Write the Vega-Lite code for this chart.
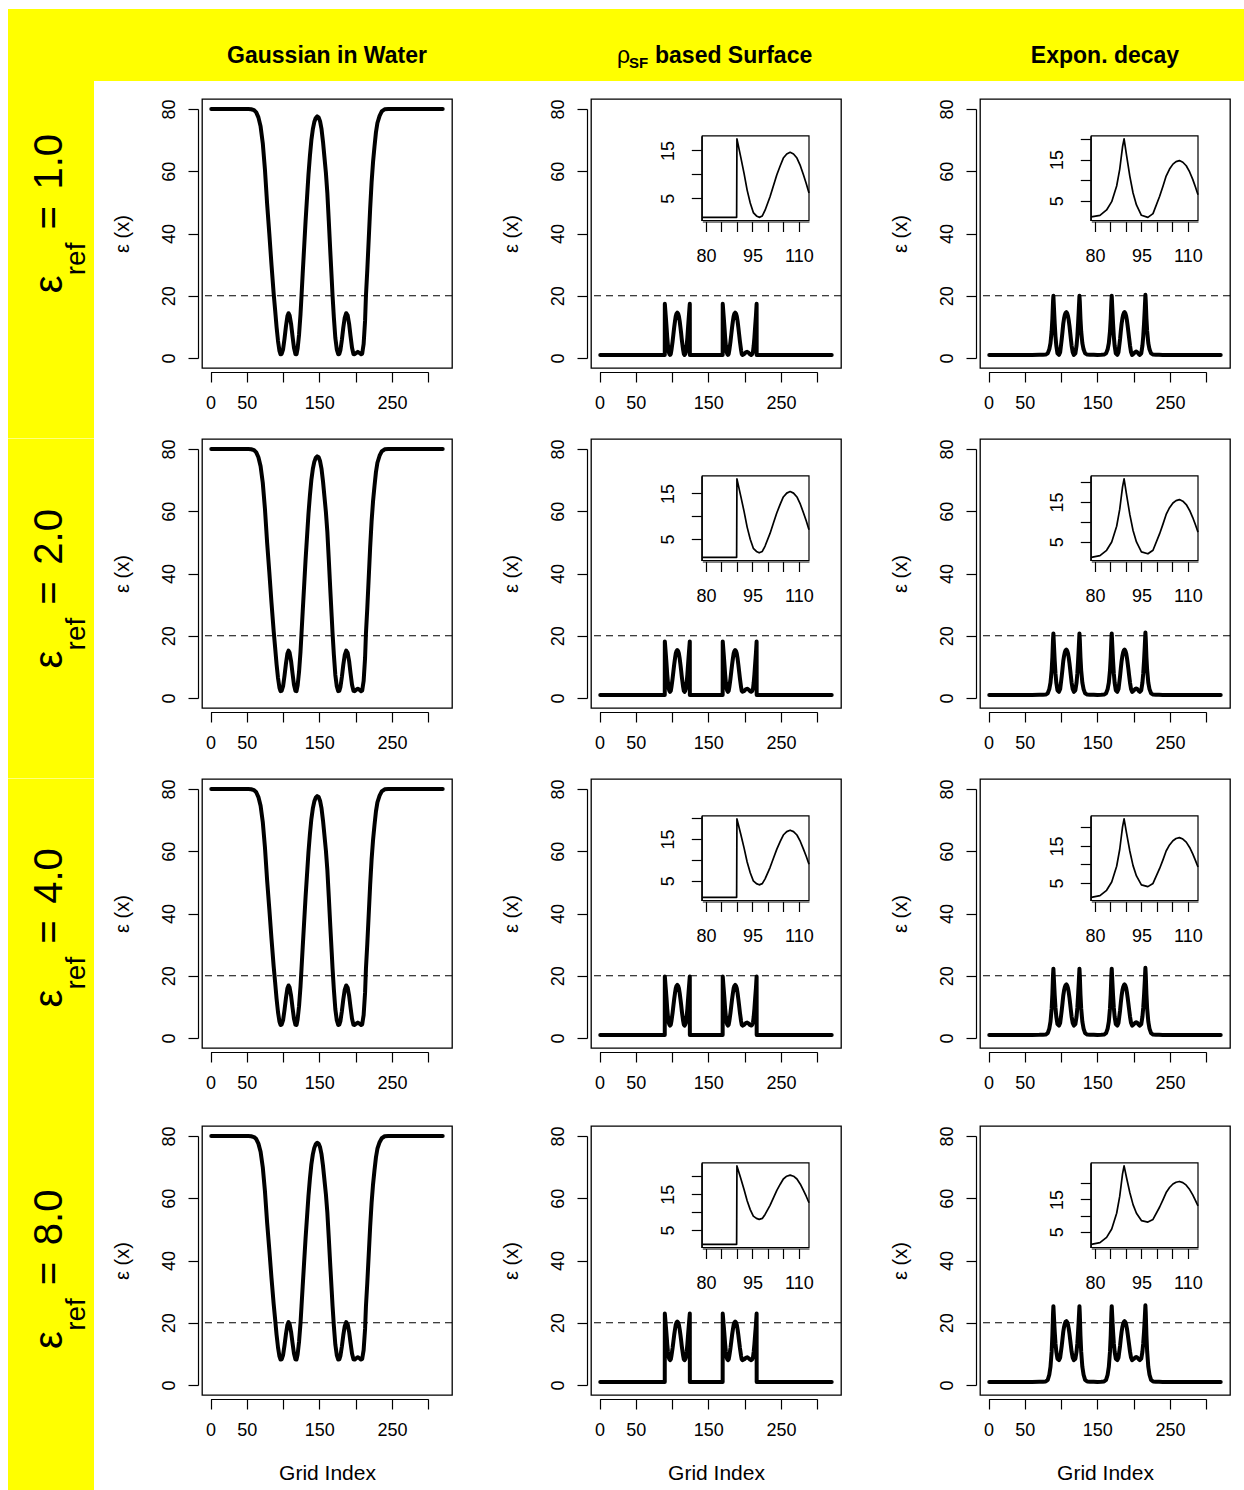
{
"$schema":"https://vega.github.io/schema/vega-lite/v6.json",
"background":"white",
"padding":{"left":8,"top":9,"right":0,"bottom":0},
"config":{"font":"Liberation Sans","view":{"stroke":"black","strokeWidth":1.3},
"axis":{"grid":false,"domainColor":"black","tickColor":"black","labelColor":"black","titleColor":"black","domainWidth":1.2,"tickWidth":1.2,"labelFontSize":18,"titleFontSize":20,"titleFontWeight":"normal","labelFont":"Liberation Sans","titleFont":"Liberation Sans","labelFlush":false,"labelOverlap":false,"tickSize":10},
"text":{"color":"black","font":"Liberation Sans"}},
"datasets":{
"gw":[
{"x":1,"r1":80,"r2":80,"r3":80,"r4":80},{"x":20,"r1":80,"r2":80,"r3":80,"r4":80},{"x":40,"r1":80,"r2":80,"r3":80,"r4":80},{"x":52,"r1":80,"r2":80,"r3":80,"r4":80},
{"x":56,"r1":79.9,"r2":79.9,"r3":79.9,"r4":79.9},{"x":60,"r1":79.6,"r2":79.61,"r3":79.62,"r4":79.64},{"x":63,"r1":78.9,"r2":78.91,"r3":78.94,"r4":79},
{"x":66,"r1":77.3,"r2":77.33,"r3":77.4,"r4":77.54},{"x":69,"r1":74.4,"r2":74.47,"r3":74.61,"r4":74.9},{"x":72,"r1":69,"r2":69.14,"r3":69.42,"r4":69.97},
{"x":75,"r1":60.5,"r2":60.75,"r3":61.24,"r4":62.23},{"x":78,"r1":49.5,"r2":49.89,"r3":50.66,"r4":52.2},{"x":81,"r1":40,"r2":40.51,"r3":41.52,"r4":43.54},
{"x":84,"r1":30,"r2":30.63,"r3":31.9,"r4":34.43},{"x":87,"r1":20.8,"r2":21.55,"r3":23.05,"r4":26.05},{"x":89,"r1":15.5,"r2":16.32,"r3":17.95,"r4":21.22},
{"x":91,"r1":10,"r2":10.89,"r3":12.66,"r4":16.2},{"x":93,"r1":5.5,"r2":6.44,"r3":8.33,"r4":12.1},{"x":95,"r1":2.3,"r2":3.28,"r3":5.25,"r4":9.18},
{"x":96.5,"r1":1.2,"r2":2.2,"r3":4.19,"r4":8.18},{"x":98,"r1":1.3,"r2":2.3,"r3":4.29,"r4":8.27},{"x":100,"r1":2.8,"r2":3.78,"r3":5.73,"r4":9.64},
{"x":102,"r1":6.3,"r2":7.23,"r3":9.1,"r4":12.83},{"x":104,"r1":10.3,"r2":11.18,"r3":12.95,"r4":16.48},{"x":106,"r1":13.5,"r2":14.34,"r3":16.03,"r4":19.39},
{"x":107.5,"r1":14.4,"r2":15.23,"r3":16.89,"r4":20.21},{"x":109,"r1":13.7,"r2":14.54,"r3":16.22,"r4":19.57},{"x":111,"r1":11,"r2":11.87,"r3":13.62,"r4":17.11},
{"x":113,"r1":7,"r2":7.92,"r3":9.77,"r4":13.47},{"x":115,"r1":3.3,"r2":4.27,"r3":6.21,"r4":10.1},{"x":117,"r1":1.3,"r2":2.3,"r3":4.29,"r4":8.27},
{"x":118.5,"r1":1.2,"r2":2.2,"r3":4.19,"r4":8.18},{"x":120,"r1":3,"r2":3.97,"r3":5.92,"r4":9.82},{"x":122,"r1":7.5,"r2":8.42,"r3":10.25,"r4":13.92},
{"x":124,"r1":14,"r2":14.84,"r3":16.51,"r4":19.85},{"x":125.4,"r1":20,"r2":20.76,"r3":22.28,"r4":25.32},{"x":127,"r1":27,"r2":27.67,"r3":29.01,"r4":31.7},
{"x":129,"r1":35.5,"r2":36.06,"r3":37.19,"r4":39.44},{"x":131,"r1":44,"r2":44.46,"r3":45.37,"r4":47.19},{"x":133,"r1":51.5,"r2":51.86,"r3":52.58,"r4":54.03},
{"x":135,"r1":59,"r2":59.27,"r3":59.8,"r4":60.86},{"x":137,"r1":65,"r2":65.19,"r3":65.57,"r4":66.33},{"x":139,"r1":70,"r2":70.13,"r3":70.38,"r4":70.89},
{"x":141,"r1":73.5,"r2":73.58,"r3":73.75,"r4":74.08},{"x":143,"r1":75.8,"r2":75.85,"r3":75.96,"r4":76.17},{"x":145,"r1":77.1,"r2":77.14,"r3":77.21,"r4":77.36},
{"x":147,"r1":77.6,"r2":77.63,"r3":77.69,"r4":77.81},{"x":149,"r1":77.3,"r2":77.33,"r3":77.4,"r4":77.54},{"x":151,"r1":76,"r2":76.05,"r3":76.15,"r4":76.35},
{"x":153,"r1":73.5,"r2":73.58,"r3":73.75,"r4":74.08},{"x":155,"r1":69.5,"r2":69.63,"r3":69.9,"r4":70.43},{"x":157,"r1":64.5,"r2":64.7,"r3":65.09,"r4":65.87},
{"x":159,"r1":59.5,"r2":59.76,"r3":60.28,"r4":61.32},{"x":161,"r1":53,"r2":53.34,"r3":54.03,"r4":55.39},{"x":163,"r1":44,"r2":44.46,"r3":45.37,"r4":47.19},
{"x":165,"r1":34.5,"r2":35.08,"r3":36.23,"r4":38.53},{"x":167,"r1":25.5,"r2":26.19,"r3":27.57,"r4":30.33},{"x":168.2,"r1":20,"r2":20.76,"r3":22.28,"r4":25.32},
{"x":170,"r1":13,"r2":13.85,"r3":15.54,"r4":18.94},{"x":172,"r1":6.5,"r2":7.43,"r3":9.29,"r4":13.01},{"x":174,"r1":2.8,"r2":3.78,"r3":5.73,"r4":9.64},
{"x":176,"r1":1.2,"r2":2.2,"r3":4.19,"r4":8.18},{"x":177.5,"r1":1.3,"r2":2.3,"r3":4.29,"r4":8.27},{"x":179,"r1":2.5,"r2":3.48,"r3":5.44,"r4":9.37},
{"x":181,"r1":5.8,"r2":6.74,"r3":8.62,"r4":12.37},{"x":183,"r1":9.8,"r2":10.69,"r3":12.47,"r4":16.02},{"x":185,"r1":13,"r2":13.85,"r3":15.54,"r4":18.94},
{"x":187,"r1":14.4,"r2":15.23,"r3":16.89,"r4":20.21},{"x":189,"r1":13.7,"r2":14.54,"r3":16.22,"r4":19.57},{"x":191,"r1":11,"r2":11.87,"r3":13.62,"r4":17.11},
{"x":193,"r1":7,"r2":7.92,"r3":9.77,"r4":13.47},{"x":195,"r1":3.3,"r2":4.27,"r3":6.21,"r4":10.1},{"x":197,"r1":1.3,"r2":2.3,"r3":4.29,"r4":8.27},
{"x":198.5,"r1":1.2,"r2":2.2,"r3":4.19,"r4":8.18},{"x":200.5,"r1":1.6,"r2":2.59,"r3":4.58,"r4":8.55},{"x":203,"r1":2,"r2":2.99,"r3":4.96,"r4":8.91},
{"x":205.5,"r1":1.6,"r2":2.59,"r3":4.58,"r4":8.55},{"x":207.5,"r1":1.2,"r2":2.2,"r3":4.19,"r4":8.18},{"x":209,"r1":1.4,"r2":2.39,"r3":4.38,"r4":8.36},
{"x":211,"r1":4.5,"r2":5.46,"r3":7.37,"r4":11.19},{"x":213,"r1":12,"r2":12.86,"r3":14.58,"r4":18.03},{"x":214.2,"r1":20,"r2":20.76,"r3":22.28,"r4":25.32},
{"x":216,"r1":28,"r2":28.66,"r3":29.97,"r4":32.61},{"x":218,"r1":38,"r2":38.53,"r3":39.6,"r4":41.72},{"x":220,"r1":48,"r2":48.41,"r3":49.22,"r4":50.84},
{"x":222,"r1":56.5,"r2":56.8,"r3":57.39,"r4":58.58},{"x":224,"r1":63,"r2":63.22,"r3":63.65,"r4":64.51},{"x":226,"r1":68,"r2":68.15,"r3":68.46,"r4":69.06},
{"x":228,"r1":72.5,"r2":72.6,"r3":72.79,"r4":73.16},{"x":230,"r1":75.5,"r2":75.56,"r3":75.67,"r4":75.9},{"x":233,"r1":77.8,"r2":77.83,"r3":77.88,"r4":78},
{"x":236,"r1":79.2,"r2":79.21,"r3":79.23,"r4":79.27},{"x":240,"r1":79.9,"r2":79.9,"r3":79.9,"r4":79.9},{"x":245,"r1":80,"r2":80,"r3":80,"r4":80},
{"x":270,"r1":80,"r2":80,"r3":80,"r4":80},{"x":300,"r1":80,"r2":80,"r3":80,"r4":80},{"x":320,"r1":80,"r2":80,"r3":80,"r4":80}
],
"sf":[
{"x":1,"r1":1,"r2":1,"r3":1,"r4":1},{"x":40,"r1":1,"r2":1,"r3":1,"r4":1},{"x":78.8,"r1":1,"r2":1,"r3":1,"r4":1},{"x":89.9,"r1":1,"r2":1,"r3":1,"r4":1},
{"x":90,"r1":17.4,"r2":18.19,"r3":19.78,"r4":22.95},{"x":91.2,"r1":13.7,"r2":14.54,"r3":16.22,"r4":19.57},{"x":92.3,"r1":10.2,"r2":11.08,"r3":12.85,"r4":16.38},
{"x":93.3,"r1":6.7,"r2":7.63,"r3":9.48,"r4":13.19},{"x":94.3,"r1":4,"r2":4.96,"r3":6.89,"r4":10.73},{"x":95.3,"r1":2,"r2":2.99,"r3":4.96,"r4":8.91},
{"x":96.3,"r1":1.3,"r2":2.3,"r3":4.29,"r4":8.27},{"x":97.2,"r1":1,"r2":2,"r3":4,"r4":8},{"x":98.2,"r1":1.3,"r2":2.3,"r3":4.29,"r4":8.27},
{"x":99.1,"r1":2.5,"r2":3.48,"r3":5.44,"r4":9.37},{"x":100.7,"r1":5.3,"r2":6.25,"r3":8.14,"r4":11.92},{"x":101.8,"r1":7.6,"r2":8.52,"r3":10.35,"r4":14.02},
{"x":102.9,"r1":9.9,"r2":10.79,"r3":12.56,"r4":16.11},{"x":104,"r1":11.8,"r2":12.66,"r3":14.39,"r4":17.84},
{"x":105,"r1":13.4,"r2":14.24,"r3":15.93,"r4":19.3},{"x":106.1,"r1":14.25,"r2":15.08,"r3":16.75,"r4":20.08},{"x":107.2,"r1":14.6,"r2":15.43,"r3":17.08,"r4":20.39},
{"x":108.3,"r1":14.25,"r2":15.08,"r3":16.75,"r4":20.08},{"x":109.4,"r1":13.4,"r2":14.24,"r3":15.93,"r4":19.3},{"x":110.5,"r1":11.8,"r2":12.66,"r3":14.39,"r4":17.84},
{"x":111.5,"r1":9.9,"r2":10.79,"r3":12.56,"r4":16.11},{"x":112.4,"r1":8.1,"r2":9.01,"r3":10.83,"r4":14.47},{"x":113.3,"r1":6.1,"r2":7.04,"r3":8.91,"r4":12.65},{"x":113.7,"r1":5.3,"r2":6.25,"r3":8.14,"r4":11.92},
{"x":115.3,"r1":2.5,"r2":3.48,"r3":5.44,"r4":9.37},{"x":116.2,"r1":1.3,"r2":2.3,"r3":4.29,"r4":8.27},{"x":117.2,"r1":1,"r2":2,"r3":4,"r4":8},
{"x":118.1,"r1":1.3,"r2":2.3,"r3":4.29,"r4":8.27},{"x":119.1,"r1":2,"r2":2.99,"r3":4.96,"r4":8.91},{"x":120.1,"r1":4,"r2":4.96,"r3":6.89,"r4":10.73},
{"x":121.1,"r1":6.7,"r2":7.63,"r3":9.48,"r4":13.19},{"x":122.1,"r1":10.2,"r2":11.08,"r3":12.85,"r4":16.38},{"x":123.2,"r1":13.7,"r2":14.54,"r3":16.22,"r4":19.57},
{"x":124.4,"r1":17.4,"r2":18.19,"r3":19.78,"r4":22.95},{"x":124.5,"r1":1,"r2":1,"r3":1,"r4":1},{"x":169.7,"r1":1,"r2":1,"r3":1,"r4":1},
{"x":169.8,"r1":17.4,"r2":18.19,"r3":19.78,"r4":22.95},{"x":171,"r1":13.7,"r2":14.54,"r3":16.22,"r4":19.57},{"x":172.1,"r1":10.2,"r2":11.08,"r3":12.85,"r4":16.38},
{"x":173.1,"r1":6.7,"r2":7.63,"r3":9.48,"r4":13.19},{"x":174.1,"r1":4,"r2":4.96,"r3":6.89,"r4":10.73},{"x":175.1,"r1":2,"r2":2.99,"r3":4.96,"r4":8.91},
{"x":176.1,"r1":1.3,"r2":2.3,"r3":4.29,"r4":8.27},{"x":177,"r1":1,"r2":2,"r3":4,"r4":8},{"x":178,"r1":1.3,"r2":2.3,"r3":4.29,"r4":8.27},
{"x":178.9,"r1":2.5,"r2":3.48,"r3":5.44,"r4":9.37},{"x":180.5,"r1":5.3,"r2":6.25,"r3":8.14,"r4":11.92},{"x":181.6,"r1":7.6,"r2":8.52,"r3":10.35,"r4":14.02},
{"x":182.7,"r1":9.9,"r2":10.79,"r3":12.56,"r4":16.11},{"x":183.8,"r1":11.8,"r2":12.66,"r3":14.39,"r4":17.84},
{"x":184.8,"r1":13.4,"r2":14.24,"r3":15.93,"r4":19.3},{"x":185.9,"r1":14.25,"r2":15.08,"r3":16.75,"r4":20.08},{"x":187,"r1":14.6,"r2":15.43,"r3":17.08,"r4":20.39},
{"x":188.1,"r1":14.25,"r2":15.08,"r3":16.75,"r4":20.08},{"x":189.2,"r1":13.4,"r2":14.24,"r3":15.93,"r4":19.3},{"x":190.3,"r1":11.8,"r2":12.66,"r3":14.39,"r4":17.84},
{"x":191.3,"r1":9.9,"r2":10.79,"r3":12.56,"r4":16.11},{"x":192.4,"r1":7.6,"r2":8.52,"r3":10.35,"r4":14.02},{"x":193.5,"r1":5.3,"r2":6.25,"r3":8.14,"r4":11.92},{"x":195.1,"r1":2.5,"r2":3.48,"r3":5.44,"r4":9.37},
{"x":196,"r1":1.3,"r2":2.3,"r3":4.29,"r4":8.27},{"x":197,"r1":1,"r2":2,"r3":4,"r4":8},{"x":199.5,"r1":1.3,"r2":2.3,"r3":4.29,"r4":8.27},
{"x":201.5,"r1":1.8,"r2":2.79,"r3":4.77,"r4":8.73},{"x":203.5,"r1":2,"r2":2.99,"r3":4.96,"r4":8.91},{"x":205.5,"r1":1.7,"r2":2.69,"r3":4.67,"r4":8.64},
{"x":207.5,"r1":1.2,"r2":2.2,"r3":4.19,"r4":8.18},{"x":209,"r1":1,"r2":2,"r3":4,"r4":8},{"x":210.5,"r1":1.3,"r2":2.3,"r3":4.29,"r4":8.27},
{"x":211.5,"r1":2,"r2":2.99,"r3":4.96,"r4":8.91},{"x":212.5,"r1":4,"r2":4.96,"r3":6.89,"r4":10.73},{"x":213.5,"r1":6.7,"r2":7.63,"r3":9.48,"r4":13.19},
{"x":214.5,"r1":10.2,"r2":11.08,"r3":12.85,"r4":16.38},{"x":215.6,"r1":13.7,"r2":14.54,"r3":16.22,"r4":19.57},{"x":216.5,"r1":17.4,"r2":18.19,"r3":19.78,"r4":22.95},
{"x":216.6,"r1":1,"r2":1,"r3":1,"r4":1},{"x":320,"r1":1,"r2":1,"r3":1,"r4":1}
],
"ex":[
{"x":1,"r1":1,"r2":1,"r3":1,"r4":1},{"x":60,"r1":1,"r2":1,"r3":1,"r4":1},{"x":70,"r1":1.02,"r2":1.02,"r3":1.02,"r4":1.03},{"x":75,"r1":1.05,"r2":1.05,"r3":1.06,"r4":1.06},
{"x":78.8,"r1":1.1,"r2":1.1,"r3":1.11,"r4":1.13},{"x":81.6,"r1":1.5,"r2":1.52,"r3":1.56,"r4":1.64},{"x":83.75,"r1":2.8,"r2":2.87,"r3":3.02,"r4":3.3},
{"x":85.4,"r1":4.8,"r2":4.95,"r3":5.26,"r4":5.86},{"x":87,"r1":8.6,"r2":8.9,"r3":9.51,"r4":10.73},{"x":88,"r1":12.7,"r2":13.17,"r3":14.1,"r4":15.98},
{"x":88.9,"r1":18.1,"r2":18.78,"r3":20.15,"r4":22.89},{"x":89.4,"r1":20,"r2":20.76,"r3":22.28,"r4":25.32},{"x":90.2,"r1":16,"r2":16.81,"r3":18.43,"r4":21.67},
{"x":91.25,"r1":11,"r2":11.87,"r3":13.62,"r4":17.11},{"x":92.3,"r1":6.9,"r2":7.83,"r3":9.68,"r4":13.38},{"x":93.4,"r1":4,"r2":4.96,"r3":6.89,"r4":10.73},
{"x":95,"r1":1.5,"r2":2.49,"r3":4.48,"r4":8.46},{"x":97.1,"r1":1,"r2":2,"r3":4,"r4":8},{"x":98.75,"r1":1.9,"r2":2.89,"r3":4.87,"r4":8.82},
{"x":100.9,"r1":6.1,"r2":7.04,"r3":8.91,"r4":12.65},{"x":102,"r1":8.6,"r2":9.5,"r3":11.31,"r4":14.93},{"x":103,"r1":11,"r2":11.87,"r3":13.62,"r4":17.11},{"x":104.1,"r1":12.7,"r2":13.55,"r3":15.26,"r4":18.66},{"x":105.2,"r1":13.9,"r2":14.74,"r3":16.41,"r4":19.76},
{"x":106.2,"r1":14.5,"r2":15.33,"r3":16.99,"r4":20.3},{"x":107.3,"r1":14.75,"r2":15.58,"r3":17.23,"r4":20.53},{"x":108.4,"r1":14.35,"r2":15.18,"r3":16.84,"r4":20.17},{"x":109.5,"r1":13.5,"r2":14.34,"r3":16.03,"r4":19.39},{"x":110.6,"r1":12,"r2":12.86,"r3":14.58,"r4":18.03},{"x":111.6,"r1":10.2,"r2":11.08,"r3":12.85,"r4":16.38},
{"x":112.5,"r1":8.3,"r2":9.21,"r3":11.02,"r4":14.65},{"x":113.3,"r1":6.5,"r2":7.43,"r3":9.29,"r4":13.01},{"x":114.5,"r1":4,"r2":4.96,"r3":6.89,"r4":10.73},{"x":116,"r1":1.9,"r2":2.89,"r3":4.87,"r4":8.82},
{"x":117.6,"r1":1,"r2":2,"r3":4,"r4":8},{"x":119.7,"r1":1.5,"r2":2.49,"r3":4.48,"r4":8.46},{"x":121.3,"r1":4,"r2":4.96,"r3":6.89,"r4":10.73},
{"x":122.4,"r1":6.9,"r2":7.83,"r3":9.68,"r4":13.38},{"x":123.4,"r1":11,"r2":11.87,"r3":13.62,"r4":17.11},{"x":124.5,"r1":16,"r2":16.81,"r3":18.43,"r4":21.67},
{"x":125.3,"r1":20,"r2":20.76,"r3":22.28,"r4":25.32},{"x":125.8,"r1":18.1,"r2":18.78,"r3":20.15,"r4":22.89},{"x":126.7,"r1":12.7,"r2":13.17,"r3":14.1,"r4":15.98},
{"x":127.7,"r1":8.6,"r2":8.9,"r3":9.51,"r4":10.73},{"x":129.3,"r1":4.8,"r2":4.95,"r3":5.26,"r4":5.86},{"x":131,"r1":2.8,"r2":2.87,"r3":3.02,"r4":3.3},
{"x":133.1,"r1":1.5,"r2":1.52,"r3":1.56,"r4":1.64},{"x":136,"r1":1.1,"r2":1.1,"r3":1.11,"r4":1.13},{"x":139.8,"r1":1.05,"r2":1.05,"r3":1.06,"r4":1.06},
{"x":145,"r1":1.02,"r2":1.02,"r3":1.02,"r4":1.03},{"x":150,"r1":1,"r2":1,"r3":1,"r4":1},{"x":155.4,"r1":1.02,"r2":1.02,"r3":1.02,"r4":1.03},
{"x":159.2,"r1":1.1,"r2":1.1,"r3":1.11,"r4":1.13},{"x":162,"r1":1.5,"r2":1.52,"r3":1.56,"r4":1.64},{"x":164.15,"r1":2.8,"r2":2.87,"r3":3.02,"r4":3.3},
{"x":165.8,"r1":4.8,"r2":4.95,"r3":5.26,"r4":5.86},{"x":167.4,"r1":8.6,"r2":8.9,"r3":9.51,"r4":10.73},{"x":168.4,"r1":12.7,"r2":13.17,"r3":14.1,"r4":15.98},
{"x":169.3,"r1":18.1,"r2":18.78,"r3":20.15,"r4":22.89},{"x":169.8,"r1":20,"r2":20.76,"r3":22.28,"r4":25.32},{"x":170.6,"r1":16,"r2":16.81,"r3":18.43,"r4":21.67},
{"x":171.65,"r1":11,"r2":11.87,"r3":13.62,"r4":17.11},{"x":172.7,"r1":6.9,"r2":7.83,"r3":9.68,"r4":13.38},{"x":173.8,"r1":4,"r2":4.96,"r3":6.89,"r4":10.73},
{"x":175.4,"r1":1.5,"r2":2.49,"r3":4.48,"r4":8.46},{"x":177.5,"r1":1,"r2":2,"r3":4,"r4":8},{"x":179.15,"r1":1.9,"r2":2.89,"r3":4.87,"r4":8.82},
{"x":181.3,"r1":6.1,"r2":7.04,"r3":8.91,"r4":12.65},{"x":182.3,"r1":8.6,"r2":9.5,"r3":11.31,"r4":14.93},{"x":183.4,"r1":11,"r2":11.87,"r3":13.62,"r4":17.11},{"x":184.5,"r1":12.7,"r2":13.55,"r3":15.26,"r4":18.66},{"x":185.6,"r1":13.9,"r2":14.74,"r3":16.41,"r4":19.76},
{"x":186.6,"r1":14.5,"r2":15.33,"r3":16.99,"r4":20.3},{"x":187.5,"r1":14.75,"r2":15.58,"r3":17.23,"r4":20.53},{"x":188.6,"r1":14.35,"r2":15.18,"r3":16.84,"r4":20.17},{"x":189.7,"r1":13.5,"r2":14.34,"r3":16.03,"r4":19.39},{"x":190.8,"r1":12,"r2":12.86,"r3":14.58,"r4":18.03},{"x":191.8,"r1":10.2,"r2":11.08,"r3":12.85,"r4":16.38},
{"x":192.8,"r1":8.3,"r2":9.21,"r3":11.02,"r4":14.65},{"x":193.7,"r1":6.5,"r2":7.43,"r3":9.29,"r4":13.01},{"x":195,"r1":4,"r2":4.96,"r3":6.89,"r4":10.73},{"x":196.4,"r1":1.9,"r2":2.89,"r3":4.87,"r4":8.82},
{"x":197.9,"r1":1,"r2":2,"r3":4,"r4":8},{"x":200,"r1":1.4,"r2":2.39,"r3":4.38,"r4":8.36},{"x":202,"r1":1.9,"r2":2.89,"r3":4.87,"r4":8.82},
{"x":203.5,"r1":2.1,"r2":3.09,"r3":5.06,"r4":9},{"x":205,"r1":1.9,"r2":2.89,"r3":4.87,"r4":8.82},{"x":207,"r1":1.3,"r2":2.3,"r3":4.29,"r4":8.27},
{"x":208.5,"r1":1,"r2":2,"r3":4,"r4":8},{"x":210.5,"r1":1.5,"r2":2.49,"r3":4.48,"r4":8.46},{"x":212.1,"r1":4,"r2":4.96,"r3":6.89,"r4":10.73},
{"x":213.2,"r1":6.9,"r2":7.83,"r3":9.68,"r4":13.38},{"x":214.3,"r1":11,"r2":11.87,"r3":13.62,"r4":17.11},{"x":215.4,"r1":16,"r2":16.81,"r3":18.43,"r4":21.67},
{"x":216.2,"r1":20.3,"r2":21.06,"r3":22.57,"r4":25.59},{"x":216.7,"r1":18.3,"r2":18.99,"r3":20.38,"r4":23.14},{"x":217.6,"r1":12.8,"r2":13.27,"r3":14.22,"r4":16.1},
{"x":218.6,"r1":8.7,"r2":9.01,"r3":9.62,"r4":10.86},{"x":220.2,"r1":4.8,"r2":4.95,"r3":5.26,"r4":5.86},{"x":221.85,"r1":2.8,"r2":2.87,"r3":3.02,"r4":3.3},
{"x":224,"r1":1.5,"r2":1.52,"r3":1.56,"r4":1.64},{"x":226.8,"r1":1.1,"r2":1.1,"r3":1.11,"r4":1.13},{"x":230.6,"r1":1.05,"r2":1.05,"r3":1.06,"r4":1.06},
{"x":235,"r1":1.02,"r2":1.02,"r3":1.02,"r4":1.03},{"x":240,"r1":1,"r2":1,"r3":1,"r4":1},{"x":320,"r1":1,"r2":1,"r3":1,"r4":1}
]
},
"columns":4,
"spacing":{"row":0,"column":0},
"bounds":"flush",
"concat":[
 {"width":194,"height":72,"view":{"fill":"#ffff00","stroke":null},"data":{"values":[{"k":1}]},"mark":{"type":"point","opacity":0}},
 {"width":389,"height":72,"view":{"fill":"#ffff00","stroke":null},"data":{"values":[{"k":1}]},"mark":{"type":"point","opacity":0}},
 {"width":389,"height":72,"view":{"fill":"#ffff00","stroke":null},"data":{"values":[{"k":1}]},"mark":{"type":"point","opacity":0}},
 {"width":264,"height":72,"view":{"fill":"#ffff00","stroke":null},"data":{"values":[{"k":1}]},"mark":{"type":"point","opacity":0}},

 {"width":86,"height":18,"view":{"fill":"#ffff00","stroke":null},"data":{"values":[{"k":1}]},"mark":{"type":"point","opacity":0}},
 {"width":1,"height":18,"view":{"stroke":null},"data":{"values":[{"k":1}]},"mark":{"type":"point","opacity":0}},
 {"width":1,"height":18,"view":{"stroke":null},"data":{"values":[{"k":1}]},"mark":{"type":"point","opacity":0}},
 {"width":1,"height":18,"view":{"stroke":null},"data":{"values":[{"k":1}]},"mark":{"type":"point","opacity":0}},

 {"width":86,"height":339.5,"view":{"fill":"#ffff00","stroke":null},"data":{"values":[{"k":1}]},"mark":{"type":"point","opacity":0}},
 {"width":250,"height":269,"layer":[
    {"data":{"name":"gw"},"mark":{"type":"line","color":"black","strokeWidth":4,"strokeJoin":"round","strokeCap":"round"},"encoding":{
     "x":{"field":"x","type":"quantitative","scale":{"domain":[0,300],"range":[8.53,226.2],"nice":false,"zero":false},"axis":{"values":[0,50,100,150,200,250,300],"labelExpr":"datum.value == 100 || datum.value == 200 || datum.value == 300 ? '' : datum.label","title":null,"offset":4,"labelPadding":12}},
     "y":{"field":"r1","type":"quantitative","scale":{"domain":[0,80],"range":[259.04,9.96],"nice":false,"zero":false},"axis":{"values":[0,20,40,60,80],"labelAngle":270,"labelAlign":"center","labelBaseline":"bottom","labelPadding":10,"offset":4,"title":"ε (x)","titlePadding":28}}}},
    {"data":{"values":[{"k":1}]},"mark":{"type":"rule","color":"black","strokeWidth":1.2,"strokeDash":[7,5]},"encoding":{"y":{"datum":20}}},
    {"data":{"values":[{"k":1}]},"mark":{"type":"text","text":"=","fontSize":40,"angle":270,"align":"left","baseline":"alphabetic","dx":13},"encoding":{"x":{"datum":-204.7},"y":{"datum":37.1}}},
    {"data":{"values":[{"k":1}]},"mark":{"type":"text","text":"1.0","fontSize":40,"angle":270,"align":"left","baseline":"alphabetic","dx":53},"encoding":{"x":{"datum":-204.7},"y":{"datum":37.1}}},
    {"data":{"values":[{"k":1}]},"mark":{"type":"text","text":"ref","fontSize":28,"angle":270,"align":"right","baseline":"alphabetic","dy":23},"encoding":{"x":{"datum":-204.7},"y":{"datum":37.1}}},
    {"data":{"values":[{"k":1}]},"mark":{"type":"text","text":"ε","fontSize":40,"angle":270,"align":"right","baseline":"alphabetic","dx":-33},"encoding":{"x":{"datum":-204.7},"y":{"datum":37.1}}},
    {"data":{"values":[{"k":1}]},"mark":{"type":"text","text":"Gaussian in Water","fontSize":23,"fontWeight":"bold","align":"center","baseline":"alphabetic"},"encoding":{"y":{"datum":94.86}}}
 ]},
 {"width":250,"height":269,"layer":[
    {"layer":[
     {"data":{"name":"sf"},"mark":{"type":"line","color":"black","strokeWidth":4,"strokeJoin":"round","strokeCap":"round"},"encoding":{
      "x":{"field":"x","type":"quantitative","scale":{"domain":[0,300],"range":[8.53,226.2],"nice":false,"zero":false},"axis":{"values":[0,50,100,150,200,250,300],"labelExpr":"datum.value == 100 || datum.value == 200 || datum.value == 300 ? '' : datum.label","title":null,"offset":4,"labelPadding":12}},
      "y":{"field":"r1","type":"quantitative","scale":{"domain":[0,80],"range":[259.04,9.96],"nice":false,"zero":false},"axis":{"values":[0,20,40,60,80],"labelAngle":270,"labelAlign":"center","labelBaseline":"bottom","labelPadding":10,"offset":4,"title":"ε (x)","titlePadding":28}}}},
     {"data":{"values":[{"k":1}]},"mark":{"type":"rule","color":"black","strokeWidth":1.2,"strokeDash":[7,5]},"encoding":{"y":{"datum":20}}},
     {"data":{"values":[{"k":1}]},"mark":{"type":"text","text":"ρ","fontSize":23,"align":"left","baseline":"alphabetic","dx":-99},"encoding":{"y":{"datum":94.86}}},
     {"data":{"values":[{"k":1}]},"mark":{"type":"text","text":"SF","fontSize":15,"fontWeight":"bold","align":"left","baseline":"alphabetic","dx":-87,"dy":5},"encoding":{"y":{"datum":94.86}}},
     {"data":{"values":[{"k":1}]},"mark":{"type":"text","text":"based Surface","fontSize":23,"fontWeight":"bold","align":"left","baseline":"alphabetic","dx":-61},"encoding":{"y":{"datum":94.86}}}
    ]},
    {"data":{"name":"sf"},"transform":[{"filter":"datum.x >= 78.8 && datum.x <= 113.3"}],"layer":[
     {"mark":{"type":"line","color":"black","strokeWidth":1.7,"strokeJoin":"round"},"encoding":{
      "x":{"field":"x","type":"quantitative","scale":{"domain":[78.8,113.3],"range":[111.3,218],"nice":false,"zero":false},"axis":{"orient":"bottom","values":[80,85,90,95,100,105,110],"labelExpr":"datum.value == 80 || datum.value == 95 || datum.value == 110 ? datum.label : ''","title":null,"offset":-146.5,"labelPadding":16}},
      "y":{"field":"r1","type":"quantitative","scale":{"domain":[0.344,18.056],"range":[121.5,36.8],"nice":false,"zero":false},"axis":{"orient":"left","values":[5,10,15],"labelExpr":"datum.value == 5 || datum.value == 15 ? datum.label : ''","title":null,"offset":-110.3,"labelAngle":270,"labelAlign":"center","labelBaseline":"bottom","labelPadding":14}}}},
     {"data":{"values":[{"k":1}]},"mark":{"type":"rect","filled":false,"color":"black","strokeWidth":1.2},"encoding":{"x":{"datum":78.8},"x2":{"datum":113.3},"y":{"datum":0.344},"y2":{"datum":18.056}}}
    ]}
 ],"resolve":{"scale":{"x":"independent","y":"independent"},"axis":{"x":"independent","y":"independent"}}},
 {"width":250,"height":269,"layer":[
    {"layer":[
     {"data":{"name":"ex"},"mark":{"type":"line","color":"black","strokeWidth":4,"strokeJoin":"round","strokeCap":"round"},"encoding":{
      "x":{"field":"x","type":"quantitative","scale":{"domain":[0,300],"range":[8.53,226.2],"nice":false,"zero":false},"axis":{"values":[0,50,100,150,200,250,300],"labelExpr":"datum.value == 100 || datum.value == 200 || datum.value == 300 ? '' : datum.label","title":null,"offset":4,"labelPadding":12}},
      "y":{"field":"r1","type":"quantitative","scale":{"domain":[0,80],"range":[259.04,9.96],"nice":false,"zero":false},"axis":{"values":[0,20,40,60,80],"labelAngle":270,"labelAlign":"center","labelBaseline":"bottom","labelPadding":10,"offset":4,"title":"ε (x)","titlePadding":28}}}},
     {"data":{"values":[{"k":1}]},"mark":{"type":"rule","color":"black","strokeWidth":1.2,"strokeDash":[7,5]},"encoding":{"y":{"datum":20}}},
     {"data":{"values":[{"k":1}]},"mark":{"type":"text","text":"Expon. decay","fontSize":23,"fontWeight":"bold","align":"center","baseline":"alphabetic"},"encoding":{"y":{"datum":94.86}}}
    ]},
    {"data":{"name":"ex"},"transform":[{"filter":"datum.x >= 78.8 && datum.x <= 113.3"}],"layer":[
     {"mark":{"type":"line","color":"black","strokeWidth":1.7,"strokeJoin":"round"},"encoding":{
      "x":{"field":"x","type":"quantitative","scale":{"domain":[78.8,113.3],"range":[111.3,218],"nice":false,"zero":false},"axis":{"orient":"bottom","values":[80,85,90,95,100,105,110],"labelExpr":"datum.value == 80 || datum.value == 95 || datum.value == 110 ? datum.label : ''","title":null,"offset":-146.5,"labelPadding":16}},
      "y":{"field":"r1","type":"quantitative","scale":{"domain":[0.24,20.76],"range":[121.5,36.8],"nice":false,"zero":false},"axis":{"orient":"left","values":[5,10,15,20],"labelExpr":"datum.value == 5 || datum.value == 15 ? datum.label : ''","title":null,"offset":-110.3,"labelAngle":270,"labelAlign":"center","labelBaseline":"bottom","labelPadding":14}}}},
     {"data":{"values":[{"k":1}]},"mark":{"type":"rect","filled":false,"color":"black","strokeWidth":1.2},"encoding":{"x":{"datum":78.8},"x2":{"datum":113.3},"y":{"datum":0.24},"y2":{"datum":20.76}}}
    ]}
 ],"resolve":{"scale":{"x":"independent","y":"independent"},"axis":{"x":"independent","y":"independent"}}},

 {"width":86,"height":339.5,"view":{"fill":"#ffff00","stroke":null},"data":{"values":[{"k":1}]},"mark":{"type":"point","opacity":0}},
 {"width":250,"height":269,"layer":[
    {"data":{"name":"gw"},"mark":{"type":"line","color":"black","strokeWidth":4,"strokeJoin":"round","strokeCap":"round"},"encoding":{
     "x":{"field":"x","type":"quantitative","scale":{"domain":[0,300],"range":[8.53,226.2],"nice":false,"zero":false},"axis":{"values":[0,50,100,150,200,250,300],"labelExpr":"datum.value == 100 || datum.value == 200 || datum.value == 300 ? '' : datum.label","title":null,"offset":4,"labelPadding":12}},
     "y":{"field":"r2","type":"quantitative","scale":{"domain":[0,80],"range":[259.04,9.96],"nice":false,"zero":false},"axis":{"values":[0,20,40,60,80],"labelAngle":270,"labelAlign":"center","labelBaseline":"bottom","labelPadding":10,"offset":4,"title":"ε (x)","titlePadding":28}}}},
    {"data":{"values":[{"k":1}]},"mark":{"type":"rule","color":"black","strokeWidth":1.2,"strokeDash":[7,5]},"encoding":{"y":{"datum":20}}},
    {"data":{"values":[{"k":1}]},"mark":{"type":"text","text":"=","fontSize":40,"angle":270,"align":"left","baseline":"alphabetic","dx":13},"encoding":{"x":{"datum":-204.7},"y":{"datum":25.8}}},
    {"data":{"values":[{"k":1}]},"mark":{"type":"text","text":"2.0","fontSize":40,"angle":270,"align":"left","baseline":"alphabetic","dx":53},"encoding":{"x":{"datum":-204.7},"y":{"datum":25.8}}},
    {"data":{"values":[{"k":1}]},"mark":{"type":"text","text":"ref","fontSize":28,"angle":270,"align":"right","baseline":"alphabetic","dy":23},"encoding":{"x":{"datum":-204.7},"y":{"datum":25.8}}},
    {"data":{"values":[{"k":1}]},"mark":{"type":"text","text":"ε","fontSize":40,"angle":270,"align":"right","baseline":"alphabetic","dx":-33},"encoding":{"x":{"datum":-204.7},"y":{"datum":25.8}}}
 ]},
 {"width":250,"height":269,"layer":[
    {"layer":[
     {"data":{"name":"sf"},"mark":{"type":"line","color":"black","strokeWidth":4,"strokeJoin":"round","strokeCap":"round"},"encoding":{
      "x":{"field":"x","type":"quantitative","scale":{"domain":[0,300],"range":[8.53,226.2],"nice":false,"zero":false},"axis":{"values":[0,50,100,150,200,250,300],"labelExpr":"datum.value == 100 || datum.value == 200 || datum.value == 300 ? '' : datum.label","title":null,"offset":4,"labelPadding":12}},
      "y":{"field":"r2","type":"quantitative","scale":{"domain":[0,80],"range":[259.04,9.96],"nice":false,"zero":false},"axis":{"values":[0,20,40,60,80],"labelAngle":270,"labelAlign":"center","labelBaseline":"bottom","labelPadding":10,"offset":4,"title":"ε (x)","titlePadding":28}}}},
     {"data":{"values":[{"k":1}]},"mark":{"type":"rule","color":"black","strokeWidth":1.2,"strokeDash":[7,5]},"encoding":{"y":{"datum":20}}}
    ]},
    {"data":{"name":"sf"},"transform":[{"filter":"datum.x >= 78.8 && datum.x <= 113.3"}],"layer":[
     {"mark":{"type":"line","color":"black","strokeWidth":1.7,"strokeJoin":"round"},"encoding":{
      "x":{"field":"x","type":"quantitative","scale":{"domain":[78.8,113.3],"range":[111.3,218],"nice":false,"zero":false},"axis":{"orient":"bottom","values":[80,85,90,95,100,105,110],"labelExpr":"datum.value == 80 || datum.value == 95 || datum.value == 110 ? datum.label : ''","title":null,"offset":-146.5,"labelPadding":16}},
      "y":{"field":"r2","type":"quantitative","scale":{"domain":[0.312,18.878],"range":[121.5,36.8],"nice":false,"zero":false},"axis":{"orient":"left","values":[5,10,15],"labelExpr":"datum.value == 5 || datum.value == 15 ? datum.label : ''","title":null,"offset":-110.3,"labelAngle":270,"labelAlign":"center","labelBaseline":"bottom","labelPadding":14}}}},
     {"data":{"values":[{"k":1}]},"mark":{"type":"rect","filled":false,"color":"black","strokeWidth":1.2},"encoding":{"x":{"datum":78.8},"x2":{"datum":113.3},"y":{"datum":0.312},"y2":{"datum":18.878}}}
    ]}
 ],"resolve":{"scale":{"x":"independent","y":"independent"},"axis":{"x":"independent","y":"independent"}}},
 {"width":250,"height":269,"layer":[
    {"layer":[
     {"data":{"name":"ex"},"mark":{"type":"line","color":"black","strokeWidth":4,"strokeJoin":"round","strokeCap":"round"},"encoding":{
      "x":{"field":"x","type":"quantitative","scale":{"domain":[0,300],"range":[8.53,226.2],"nice":false,"zero":false},"axis":{"values":[0,50,100,150,200,250,300],"labelExpr":"datum.value == 100 || datum.value == 200 || datum.value == 300 ? '' : datum.label","title":null,"offset":4,"labelPadding":12}},
      "y":{"field":"r2","type":"quantitative","scale":{"domain":[0,80],"range":[259.04,9.96],"nice":false,"zero":false},"axis":{"values":[0,20,40,60,80],"labelAngle":270,"labelAlign":"center","labelBaseline":"bottom","labelPadding":10,"offset":4,"title":"ε (x)","titlePadding":28}}}},
     {"data":{"values":[{"k":1}]},"mark":{"type":"rule","color":"black","strokeWidth":1.2,"strokeDash":[7,5]},"encoding":{"y":{"datum":20}}}
    ]},
    {"data":{"name":"ex"},"transform":[{"filter":"datum.x >= 78.8 && datum.x <= 113.3"}],"layer":[
     {"mark":{"type":"line","color":"black","strokeWidth":1.7,"strokeJoin":"round"},"encoding":{
      "x":{"field":"x","type":"quantitative","scale":{"domain":[78.8,113.3],"range":[111.3,218],"nice":false,"zero":false},"axis":{"orient":"bottom","values":[80,85,90,95,100,105,110],"labelExpr":"datum.value == 80 || datum.value == 95 || datum.value == 110 ? datum.label : ''","title":null,"offset":-146.5,"labelPadding":16}},
      "y":{"field":"r2","type":"quantitative","scale":{"domain":[0.314,21.546],"range":[121.5,36.8],"nice":false,"zero":false},"axis":{"orient":"left","values":[5,10,15,20],"labelExpr":"datum.value == 5 || datum.value == 15 ? datum.label : ''","title":null,"offset":-110.3,"labelAngle":270,"labelAlign":"center","labelBaseline":"bottom","labelPadding":14}}}},
     {"data":{"values":[{"k":1}]},"mark":{"type":"rect","filled":false,"color":"black","strokeWidth":1.2},"encoding":{"x":{"datum":78.8},"x2":{"datum":113.3},"y":{"datum":0.314},"y2":{"datum":21.546}}}
    ]}
 ],"resolve":{"scale":{"x":"independent","y":"independent"},"axis":{"x":"independent","y":"independent"}}},

 {"width":86,"height":347,"view":{"fill":"#ffff00","stroke":null},"data":{"values":[{"k":1}]},"mark":{"type":"point","opacity":0}},
 {"width":250,"height":269,"layer":[
    {"data":{"name":"gw"},"mark":{"type":"line","color":"black","strokeWidth":4,"strokeJoin":"round","strokeCap":"round"},"encoding":{
     "x":{"field":"x","type":"quantitative","scale":{"domain":[0,300],"range":[8.53,226.2],"nice":false,"zero":false},"axis":{"values":[0,50,100,150,200,250,300],"labelExpr":"datum.value == 100 || datum.value == 200 || datum.value == 300 ? '' : datum.label","title":null,"offset":4,"labelPadding":12}},
     "y":{"field":"r3","type":"quantitative","scale":{"domain":[0,80],"range":[259.04,9.96],"nice":false,"zero":false},"axis":{"values":[0,20,40,60,80],"labelAngle":270,"labelAlign":"center","labelBaseline":"bottom","labelPadding":10,"offset":4,"title":"ε (x)","titlePadding":28}}}},
    {"data":{"values":[{"k":1}]},"mark":{"type":"rule","color":"black","strokeWidth":1.2,"strokeDash":[7,5]},"encoding":{"y":{"datum":20}}},
    {"data":{"values":[{"k":1}]},"mark":{"type":"text","text":"=","fontSize":40,"angle":270,"align":"left","baseline":"alphabetic","dx":13},"encoding":{"x":{"datum":-204.7},"y":{"datum":26.1}}},
    {"data":{"values":[{"k":1}]},"mark":{"type":"text","text":"4.0","fontSize":40,"angle":270,"align":"left","baseline":"alphabetic","dx":53},"encoding":{"x":{"datum":-204.7},"y":{"datum":26.1}}},
    {"data":{"values":[{"k":1}]},"mark":{"type":"text","text":"ref","fontSize":28,"angle":270,"align":"right","baseline":"alphabetic","dy":23},"encoding":{"x":{"datum":-204.7},"y":{"datum":26.1}}},
    {"data":{"values":[{"k":1}]},"mark":{"type":"text","text":"ε","fontSize":40,"angle":270,"align":"right","baseline":"alphabetic","dx":-33},"encoding":{"x":{"datum":-204.7},"y":{"datum":26.1}}}
 ]},
 {"width":250,"height":269,"layer":[
    {"layer":[
     {"data":{"name":"sf"},"mark":{"type":"line","color":"black","strokeWidth":4,"strokeJoin":"round","strokeCap":"round"},"encoding":{
      "x":{"field":"x","type":"quantitative","scale":{"domain":[0,300],"range":[8.53,226.2],"nice":false,"zero":false},"axis":{"values":[0,50,100,150,200,250,300],"labelExpr":"datum.value == 100 || datum.value == 200 || datum.value == 300 ? '' : datum.label","title":null,"offset":4,"labelPadding":12}},
      "y":{"field":"r3","type":"quantitative","scale":{"domain":[0,80],"range":[259.04,9.96],"nice":false,"zero":false},"axis":{"values":[0,20,40,60,80],"labelAngle":270,"labelAlign":"center","labelBaseline":"bottom","labelPadding":10,"offset":4,"title":"ε (x)","titlePadding":28}}}},
     {"data":{"values":[{"k":1}]},"mark":{"type":"rule","color":"black","strokeWidth":1.2,"strokeDash":[7,5]},"encoding":{"y":{"datum":20}}}
    ]},
    {"data":{"name":"sf"},"transform":[{"filter":"datum.x >= 78.8 && datum.x <= 113.3"}],"layer":[
     {"mark":{"type":"line","color":"black","strokeWidth":1.7,"strokeJoin":"round"},"encoding":{
      "x":{"field":"x","type":"quantitative","scale":{"domain":[78.8,113.3],"range":[111.3,218],"nice":false,"zero":false},"axis":{"orient":"bottom","values":[80,85,90,95,100,105,110],"labelExpr":"datum.value == 80 || datum.value == 95 || datum.value == 110 ? datum.label : ''","title":null,"offset":-146.5,"labelPadding":16}},
      "y":{"field":"r3","type":"quantitative","scale":{"domain":[0.249,20.531],"range":[121.5,36.8],"nice":false,"zero":false},"axis":{"orient":"left","values":[5,10,15,20],"labelExpr":"datum.value == 5 || datum.value == 15 ? datum.label : ''","title":null,"offset":-110.3,"labelAngle":270,"labelAlign":"center","labelBaseline":"bottom","labelPadding":14}}}},
     {"data":{"values":[{"k":1}]},"mark":{"type":"rect","filled":false,"color":"black","strokeWidth":1.2},"encoding":{"x":{"datum":78.8},"x2":{"datum":113.3},"y":{"datum":0.249},"y2":{"datum":20.531}}}
    ]}
 ],"resolve":{"scale":{"x":"independent","y":"independent"},"axis":{"x":"independent","y":"independent"}}},
 {"width":250,"height":269,"layer":[
    {"layer":[
     {"data":{"name":"ex"},"mark":{"type":"line","color":"black","strokeWidth":4,"strokeJoin":"round","strokeCap":"round"},"encoding":{
      "x":{"field":"x","type":"quantitative","scale":{"domain":[0,300],"range":[8.53,226.2],"nice":false,"zero":false},"axis":{"values":[0,50,100,150,200,250,300],"labelExpr":"datum.value == 100 || datum.value == 200 || datum.value == 300 ? '' : datum.label","title":null,"offset":4,"labelPadding":12}},
      "y":{"field":"r3","type":"quantitative","scale":{"domain":[0,80],"range":[259.04,9.96],"nice":false,"zero":false},"axis":{"values":[0,20,40,60,80],"labelAngle":270,"labelAlign":"center","labelBaseline":"bottom","labelPadding":10,"offset":4,"title":"ε (x)","titlePadding":28}}}},
     {"data":{"values":[{"k":1}]},"mark":{"type":"rule","color":"black","strokeWidth":1.2,"strokeDash":[7,5]},"encoding":{"y":{"datum":20}}}
    ]},
    {"data":{"name":"ex"},"transform":[{"filter":"datum.x >= 78.8 && datum.x <= 113.3"}],"layer":[
     {"mark":{"type":"line","color":"black","strokeWidth":1.7,"strokeJoin":"round"},"encoding":{
      "x":{"field":"x","type":"quantitative","scale":{"domain":[78.8,113.3],"range":[111.3,218],"nice":false,"zero":false},"axis":{"orient":"bottom","values":[80,85,90,95,100,105,110],"labelExpr":"datum.value == 80 || datum.value == 95 || datum.value == 110 ? datum.label : ''","title":null,"offset":-146.5,"labelPadding":16}},
      "y":{"field":"r3","type":"quantitative","scale":{"domain":[0.263,23.127],"range":[121.5,36.8],"nice":false,"zero":false},"axis":{"orient":"left","values":[5,10,15,20],"labelExpr":"datum.value == 5 || datum.value == 15 ? datum.label : ''","title":null,"offset":-110.3,"labelAngle":270,"labelAlign":"center","labelBaseline":"bottom","labelPadding":14}}}},
     {"data":{"values":[{"k":1}]},"mark":{"type":"rect","filled":false,"color":"black","strokeWidth":1.2},"encoding":{"x":{"datum":78.8},"x2":{"datum":113.3},"y":{"datum":0.263},"y2":{"datum":23.127}}}
    ]}
 ],"resolve":{"scale":{"x":"independent","y":"independent"},"axis":{"x":"independent","y":"independent"}}},

 {"width":86,"height":365,"view":{"fill":"#ffff00","stroke":null},"data":{"values":[{"k":1}]},"mark":{"type":"point","opacity":0}},
 {"width":250,"height":269,"layer":[
    {"data":{"name":"gw"},"mark":{"type":"line","color":"black","strokeWidth":4,"strokeJoin":"round","strokeCap":"round"},"encoding":{
     "x":{"field":"x","type":"quantitative","scale":{"domain":[0,300],"range":[8.53,226.2],"nice":false,"zero":false},"axis":{"values":[0,50,100,150,200,250,300],"labelExpr":"datum.value == 100 || datum.value == 200 || datum.value == 300 ? '' : datum.label","title":"Grid Index","titleFontSize":21,"titlePadding":23,"titleX":125,"offset":4,"labelPadding":12}},
     "y":{"field":"r4","type":"quantitative","scale":{"domain":[0,80],"range":[259.04,9.96],"nice":false,"zero":false},"axis":{"values":[0,20,40,60,80],"labelAngle":270,"labelAlign":"center","labelBaseline":"bottom","labelPadding":10,"offset":4,"title":"ε (x)","titlePadding":28}}}},
    {"data":{"values":[{"k":1}]},"mark":{"type":"rule","color":"black","strokeWidth":1.2,"strokeDash":[7,5]},"encoding":{"y":{"datum":20}}},
    {"data":{"values":[{"k":1}]},"mark":{"type":"text","text":"=","fontSize":40,"angle":270,"align":"left","baseline":"alphabetic","dx":13},"encoding":{"x":{"datum":-204.7},"y":{"datum":27.9}}},
    {"data":{"values":[{"k":1}]},"mark":{"type":"text","text":"8.0","fontSize":40,"angle":270,"align":"left","baseline":"alphabetic","dx":53},"encoding":{"x":{"datum":-204.7},"y":{"datum":27.9}}},
    {"data":{"values":[{"k":1}]},"mark":{"type":"text","text":"ref","fontSize":28,"angle":270,"align":"right","baseline":"alphabetic","dy":23},"encoding":{"x":{"datum":-204.7},"y":{"datum":27.9}}},
    {"data":{"values":[{"k":1}]},"mark":{"type":"text","text":"ε","fontSize":40,"angle":270,"align":"right","baseline":"alphabetic","dx":-33},"encoding":{"x":{"datum":-204.7},"y":{"datum":27.9}}}
 ]},
 {"width":250,"height":269,"layer":[
    {"layer":[
     {"data":{"name":"sf"},"mark":{"type":"line","color":"black","strokeWidth":4,"strokeJoin":"round","strokeCap":"round"},"encoding":{
      "x":{"field":"x","type":"quantitative","scale":{"domain":[0,300],"range":[8.53,226.2],"nice":false,"zero":false},"axis":{"values":[0,50,100,150,200,250,300],"labelExpr":"datum.value == 100 || datum.value == 200 || datum.value == 300 ? '' : datum.label","title":"Grid Index","titleFontSize":21,"titlePadding":23,"titleX":125,"offset":4,"labelPadding":12}},
      "y":{"field":"r4","type":"quantitative","scale":{"domain":[0,80],"range":[259.04,9.96],"nice":false,"zero":false},"axis":{"values":[0,20,40,60,80],"labelAngle":270,"labelAlign":"center","labelBaseline":"bottom","labelPadding":10,"offset":4,"title":"ε (x)","titlePadding":28}}}},
     {"data":{"values":[{"k":1}]},"mark":{"type":"rule","color":"black","strokeWidth":1.2,"strokeDash":[7,5]},"encoding":{"y":{"datum":20}}}
    ]},
    {"data":{"name":"sf"},"transform":[{"filter":"datum.x >= 78.8 && datum.x <= 113.3"}],"layer":[
     {"mark":{"type":"line","color":"black","strokeWidth":1.7,"strokeJoin":"round"},"encoding":{
      "x":{"field":"x","type":"quantitative","scale":{"domain":[78.8,113.3],"range":[111.3,218],"nice":false,"zero":false},"axis":{"orient":"bottom","values":[80,85,90,95,100,105,110],"labelExpr":"datum.value == 80 || datum.value == 95 || datum.value == 110 ? datum.label : ''","title":null,"offset":-146.5,"labelPadding":16}},
      "y":{"field":"r4","type":"quantitative","scale":{"domain":[0.122,23.828],"range":[121.5,36.8],"nice":false,"zero":false},"axis":{"orient":"left","values":[5,10,15,20],"labelExpr":"datum.value == 5 || datum.value == 15 ? datum.label : ''","title":null,"offset":-110.3,"labelAngle":270,"labelAlign":"center","labelBaseline":"bottom","labelPadding":14}}}},
     {"data":{"values":[{"k":1}]},"mark":{"type":"rect","filled":false,"color":"black","strokeWidth":1.2},"encoding":{"x":{"datum":78.8},"x2":{"datum":113.3},"y":{"datum":0.122},"y2":{"datum":23.828}}}
    ]}
 ],"resolve":{"scale":{"x":"independent","y":"independent"},"axis":{"x":"independent","y":"independent"}}},
 {"width":250,"height":269,"layer":[
    {"layer":[
     {"data":{"name":"ex"},"mark":{"type":"line","color":"black","strokeWidth":4,"strokeJoin":"round","strokeCap":"round"},"encoding":{
      "x":{"field":"x","type":"quantitative","scale":{"domain":[0,300],"range":[8.53,226.2],"nice":false,"zero":false},"axis":{"values":[0,50,100,150,200,250,300],"labelExpr":"datum.value == 100 || datum.value == 200 || datum.value == 300 ? '' : datum.label","title":"Grid Index","titleFontSize":21,"titlePadding":23,"titleX":125,"offset":4,"labelPadding":12}},
      "y":{"field":"r4","type":"quantitative","scale":{"domain":[0,80],"range":[259.04,9.96],"nice":false,"zero":false},"axis":{"values":[0,20,40,60,80],"labelAngle":270,"labelAlign":"center","labelBaseline":"bottom","labelPadding":10,"offset":4,"title":"ε (x)","titlePadding":28}}}},
     {"data":{"values":[{"k":1}]},"mark":{"type":"rule","color":"black","strokeWidth":1.2,"strokeDash":[7,5]},"encoding":{"y":{"datum":20}}}
    ]},
    {"data":{"name":"ex"},"transform":[{"filter":"datum.x >= 78.8 && datum.x <= 113.3"}],"layer":[
     {"mark":{"type":"line","color":"black","strokeWidth":1.7,"strokeJoin":"round"},"encoding":{
      "x":{"field":"x","type":"quantitative","scale":{"domain":[78.8,113.3],"range":[111.3,218],"nice":false,"zero":false},"axis":{"orient":"bottom","values":[80,85,90,95,100,105,110],"labelExpr":"datum.value == 80 || datum.value == 95 || datum.value == 110 ? datum.label : ''","title":null,"offset":-146.5,"labelPadding":16}},
      "y":{"field":"r4","type":"quantitative","scale":{"domain":[0.162,26.288],"range":[121.5,36.8],"nice":false,"zero":false},"axis":{"orient":"left","values":[5,10,15,20],"labelExpr":"datum.value == 5 || datum.value == 15 ? datum.label : ''","title":null,"offset":-110.3,"labelAngle":270,"labelAlign":"center","labelBaseline":"bottom","labelPadding":14}}}},
     {"data":{"values":[{"k":1}]},"mark":{"type":"rect","filled":false,"color":"black","strokeWidth":1.2},"encoding":{"x":{"datum":78.8},"x2":{"datum":113.3},"y":{"datum":0.162},"y2":{"datum":26.288}}}
    ]}
 ],"resolve":{"scale":{"x":"independent","y":"independent"},"axis":{"x":"independent","y":"independent"}}}
]
}
